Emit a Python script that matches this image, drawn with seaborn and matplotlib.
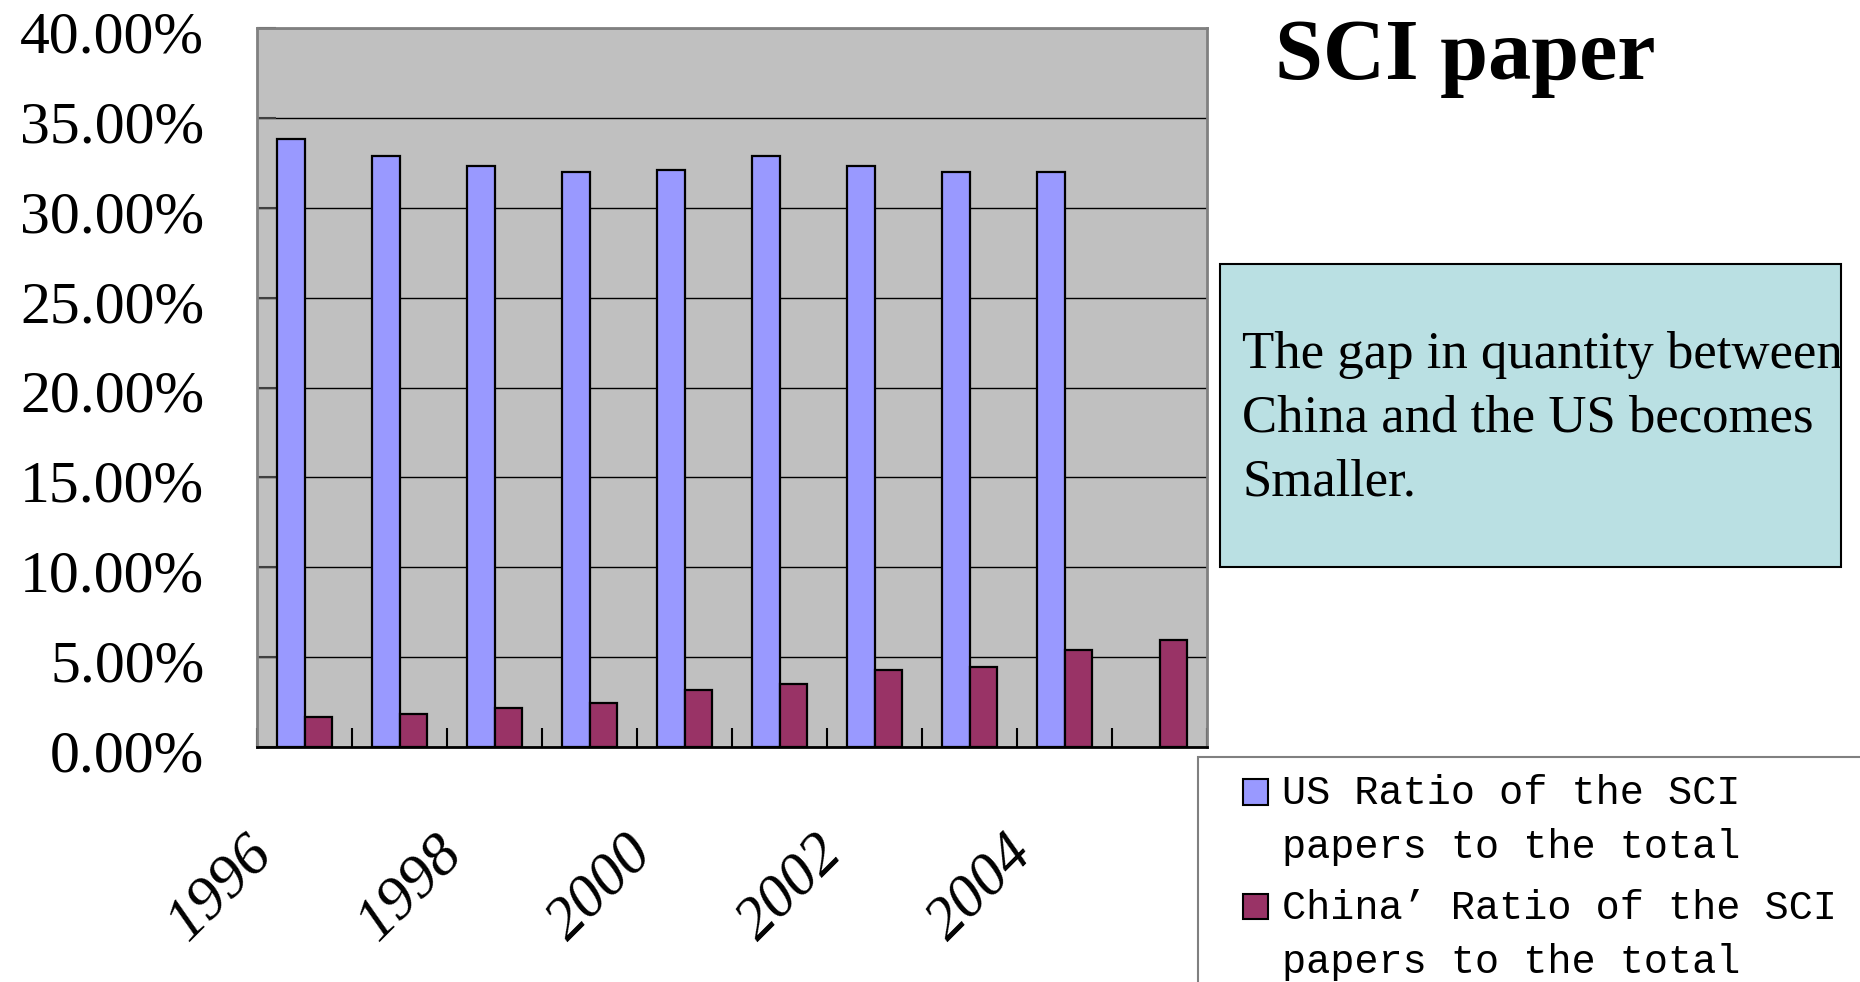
import numpy as np
import pandas as pd
import matplotlib
matplotlib.use("Agg")
import matplotlib.pyplot as plt
import matplotlib.transforms as mtransforms
import seaborn as sns
from matplotlib.patches import Patch, Rectangle

years = ["1996", "1997", "1998", "1999", "2000", "2001", "2002", "2003", "2004", "2005"]
us_ratio = [33.8, 32.9, 32.3, 32.0, 32.1, 32.9, 32.3, 32.0, 32.0, np.nan]
china_ratio = [1.65, 1.82, 2.15, 2.47, 3.15, 3.49, 4.28, 4.45, 5.41, 5.93]
series_names = ["US Ratio of the SCI\npapers to the total",
                "China\u2019 Ratio of the SCI\npapers to the total"]
series_colors = ["#9999FF", "#993366"]
y_ticks = [0, 5, 10, 15, 20, 25, 30, 35, 40]
x_label_years = ["1996", "1998", "2000", "2002", "2004"]

title_text = "SCI paper"
note_text = "The gap in quantity between\nChina and the US becomes\nSmaller."

sns.set_theme(style="white")
plt.rcParams["font.family"] = ["Liberation Serif", "DejaVu Sans"]
plt.rcParams["text.color"] = "black"
plt.rcParams["xtick.color"] = "black"
plt.rcParams["ytick.color"] = "black"

df = pd.DataFrame({
    "year": years * 2,
    "ratio": us_ratio + china_ratio,
    "series": [series_names[0]] * len(years) + [series_names[1]] * len(years),
})

W, H = 1860, 982
fig = plt.figure(figsize=(W / 100, H / 100), dpi=100)
ax = fig.add_axes([257 / W, 1 - 747 / H, 950 / W, (747 - 28) / H])

sns.barplot(data=df, x="year", y="ratio", hue="series", order=years,
            hue_order=series_names, palette=dict(zip(series_names, series_colors)),
            width=0.58, saturation=1, edgecolor="black", linewidth=1.6,
            errorbar=None, legend=False, ax=ax)

ax.set_facecolor("#C0C0C0")
ax.set_axisbelow(True)
ax.yaxis.grid(True, color="black", linewidth=1)
ax.set_ylim(0, 40)
ax.set_xlim(-0.5, len(years) - 0.5)
ax.set_xlabel("")
ax.set_ylabel("")

for side in ["left", "top", "right"]:
    ax.spines[side].set_color("#808080")
    ax.spines[side].set_linewidth(2)
ax.spines["bottom"].set_color("black")
ax.spines["bottom"].set_linewidth(2)

ax.set_yticks(y_ticks)
ax.set_yticklabels([f"{v:.2f}%" for v in y_ticks], fontsize=43)
ax.tick_params(axis="y", left=True, direction="in", length=14, width=1.5,
               color="#404040", pad=38)
down = mtransforms.ScaledTranslation(0, -0.04, fig.dpi_scale_trans)
for lab in ax.get_yticklabels():
    lab.set_transform(lab.get_transform() + down)

ax.set_xticks(np.arange(-0.5, len(years), 1), minor=True)
ax.set_xticks([years.index(y) for y in x_label_years])
ax.set_xticklabels(x_label_years, fontsize=44, style="italic", rotation=45,
                   ha="right", va="top", rotation_mode="anchor")
ax.tick_params(axis="x", which="major", bottom=True, length=0, pad=56)
ax.tick_params(axis="x", which="minor", bottom=True, direction="in", length=14,
               width=1.5, color="black")
shift = mtransforms.ScaledTranslation(-0.6, 0, fig.dpi_scale_trans)
for lab in ax.get_xticklabels():
    lab.set_transform(lab.get_transform() + shift)

fig.text(1465 / W, 1 - 59 / H, title_text, ha="center", va="center",
         fontsize=62, fontweight="bold")

fig.patches.append(Rectangle((1220 / W, 1 - 567 / H), 621 / W, 303 / H,
                             transform=fig.transFigure, facecolor="#BAE0E3",
                             edgecolor="black", linewidth=1.5))
fig.text(1242 / W, 1 - 419 / H, note_text, ha="left", va="center",
         fontsize=38, linespacing=1.42)

# legend frame runs off the bottom/right of the picture, as in the original slide
fig.patches.append(Rectangle((1198 / W, -0.05), 0.5, 1 - 757 / H + 0.05,
                             transform=fig.transFigure, facecolor="white",
                             edgecolor="#808080", linewidth=1.5))
handles = [Patch(facecolor=c, edgecolor="black", linewidth=1.5) for c in series_colors]
leg = fig.legend(handles, series_names, loc="upper left",
                 bbox_to_anchor=(1243 / W, 1 - 774 / H), frameon=False,
                 borderpad=0, borderaxespad=0, handlelength=0.62, handleheight=0.6,
                 handletextpad=0.35, labelspacing=0.55,
                 prop={"family": "Liberation Mono", "size": 29})
for t in leg.get_texts():
    t.set_linespacing(1.55)
    t.set_color("black")
for h in leg.legend_handles:
    h.set_y(h.get_y() + 21)

fig.savefig("out.png", dpi=100)
